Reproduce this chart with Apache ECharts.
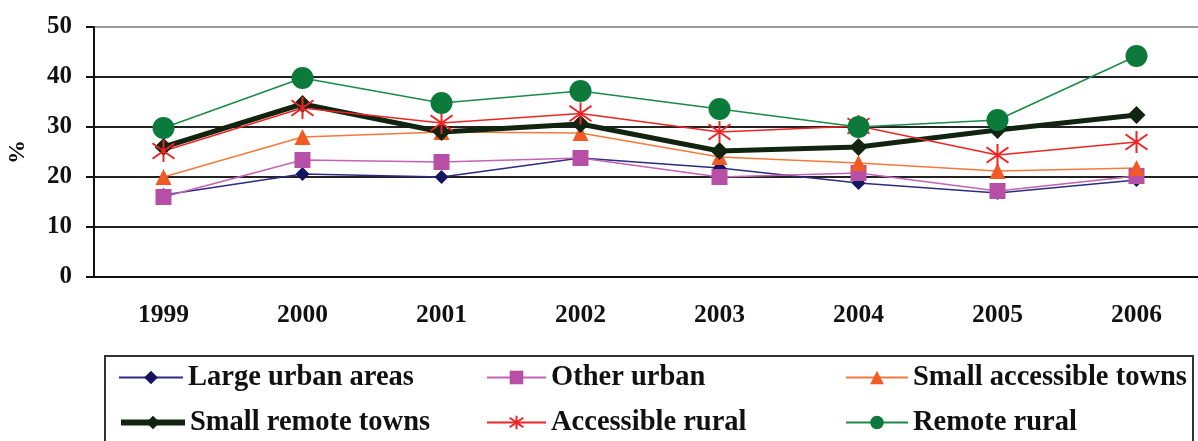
<!DOCTYPE html>
<html>
<head>
<meta charset="utf-8">
<script src="https://cdn.jsdelivr.net/npm/echarts@6/dist/echarts.min.js"></script>
<style>
  html, body { margin: 0; padding: 0; background: #fff; }
  #chart { width: 1198px; height: 441px; }
</style>
</head>
<body>
<div id="chart"></div>
<script>
  var years = ['1999', '2000', '2001', '2002', '2003', '2004', '2005', '2006'];
  var largeUrban = [16.4, 20.6, 20.0, 23.8, 21.8, 18.8, 16.8, 19.4];
  var otherUrban = [16.0, 23.4, 23.0, 23.8, 20.0, 20.8, 17.2, 20.2];
  var smallAccessible = [20.0, 28.0, 29.0, 28.8, 24.0, 22.8, 21.2, 21.8];
  var smallRemote = [26.0, 34.6, 29.0, 30.6, 25.2, 26.0, 29.4, 32.4];
  var accessibleRural = [25.2, 33.8, 30.8, 32.7, 29.0, 30.2, 24.4, 27.0];
  var remoteRural = [29.8, 39.8, 34.8, 37.2, 33.6, 30.0, 31.4, 44.2];

  var serif = 'Liberation Serif';
  var asterisk = 'path://M10,0 L10,20 M3,3 L17,17 M3,17 L17,3';

  function line(name, data, color, lineColor, symbol, size, width) {
    return {
      name: name,
      type: 'line',
      data: data,
      symbol: symbol,
      symbolSize: size,
      showAllSymbol: true,
      itemStyle: { color: color, borderColor: color, borderWidth: symbol === asterisk ? 2 : 0 },
      lineStyle: { color: lineColor, width: width },
      emphasis: { disabled: true }
    };
  }

  // one legend per cell so the columns line up like the original
  function legendItem(name, left, top, itemWidth, lineWidth) {
    return {
      left: left,
      top: top,
      padding: 0,
      itemWidth: itemWidth,
      itemHeight: 17,
      data: [{ name: name, lineStyle: { width: lineWidth || 2 } }],
      selectedMode: false,
      textStyle: { fontFamily: serif, fontWeight: 'bold', fontSize: 28.5, color: '#111', lineHeight: 28 }
    };
  }

  var chart = echarts.init(document.getElementById('chart'));

  chart.setOption({
    animation: false,
    grid: { left: 94, top: 27, width: 1112, height: 250, outerBoundsMode: 'none', containLabel: false },
    legend: [
      legendItem('Large urban areas', 118, 363, 64),
      legendItem('Small remote towns', 118, 408, 64, 6),
      legendItem('Other urban', 486, 363, 59),
      legendItem('Accessible rural', 486, 408, 59),
      legendItem('Small accessible towns', 845, 363, 62),
      legendItem('Remote rural', 845, 408, 62)
    ],
    graphic: [{
      type: 'rect',
      shape: { x: 105, y: 356, width: 1088, height: 95 },
      style: { fill: 'none', stroke: '#333', lineWidth: 2 },
      z: -1
    }],
    xAxis: {
      type: 'category',
      data: years,
      boundaryGap: true,
      axisLine: { lineStyle: { color: '#111', width: 2 } },
      axisTick: { interval: 0, length: 10, lineStyle: { color: '#111', width: 2 } },
      axisLabel: { margin: 25, fontFamily: serif, fontWeight: 'bold', fontSize: 25.5, color: '#111' }
    },
    yAxis: {
      type: 'value',
      min: 0,
      max: 50,
      interval: 10,
      name: '%',
      nameLocation: 'middle',
      nameRotate: 90,
      nameGap: 64,
      nameTextStyle: { fontFamily: serif, fontWeight: 'bold', fontSize: 24, color: '#111' },
      axisLine: { show: true, lineStyle: { color: '#111', width: 2 } },
      axisTick: { show: true, length: 8, lineStyle: { color: '#111', width: 2 } },
      axisLabel: { margin: 22, fontFamily: serif, fontWeight: 'bold', fontSize: 25, color: '#111' },
      splitLine: { lineStyle: { color: ['#222', '#222', '#222', '#222', '#222', '#999'], width: 2 } }
    },
    series: [
      line('Large urban areas', largeUrban, '#141460', '#2b2b80', 'diamond', 14, 1.5),
      line('Other urban', otherUrban, '#b84fa6', '#c462b4', 'rect', 16, 1.5),
      line('Small accessible towns', smallAccessible, '#f15a22', '#f47a3c', 'triangle', 16, 1.5),
      line('Small remote towns', smallRemote, '#102410', '#102410', 'diamond', 18, 5),
      line('Accessible rural', accessibleRural, '#ec2424', '#ec2424', asterisk, 22, 1.5),
      line('Remote rural', remoteRural, '#0b7a3b', '#1b8a45', 'circle', 22, 1.5)
    ]
  });
</script>
</body>
</html>
